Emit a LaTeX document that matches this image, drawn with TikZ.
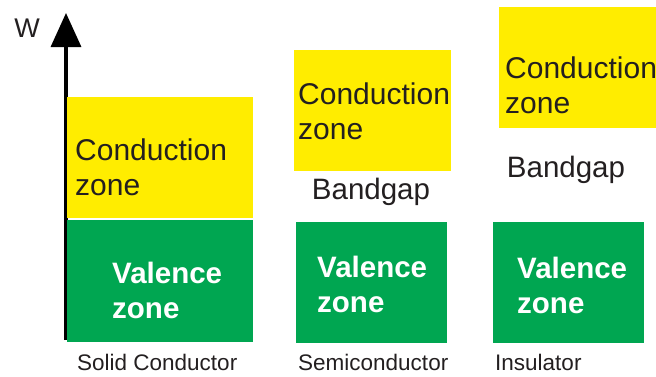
\documentclass[tikz,border=0pt]{standalone}
\usepackage{fontspec}
\setmainfont{Liberation Sans}
\usetikzlibrary{arrows.meta}
\usetikzlibrary{positioning}
\definecolor{bandyellow}{RGB}{255,237,0}
\definecolor{bandgreen}{RGB}{0,166,81}
\definecolor{inkblack}{RGB}{35,31,32}
\tikzset{
    condband/.style={fill=bandyellow, inner sep=0pt, anchor=south west},
    valband/.style={fill=bandgreen, inner sep=0pt, anchor=south west},
    condtext/.style={text=inkblack, inner sep=0pt, anchor=west, align=left,
        font=\fontsize{30}{35}\selectfont},
    valtext/.style={text=white, inner sep=0pt, anchor=west, align=left,
        font=\fontsize{29.5}{35}\selectfont\bfseries},
    gaptext/.style={text=inkblack, inner sep=0pt, font=\fontsize{29.5}{35}\selectfont},
    material/.style={text=inkblack, inner sep=0pt, anchor=west,
        font=\fontsize{22.5}{26}\selectfont},
    axis/.style={draw=black, line width=3.3pt, -{Triangle[length=34pt,width=30pt]}},
}

\begin{document}
\begin{tikzpicture}[x=1pt, y=1pt]
	\useasboundingbox (0,0) rectangle (656,376);
	% energy axis
	\coordinate (origin) at (66,36);
	\coordinate (wtop) at (66,363);
	\draw[axis] (origin) -- (wtop);
	\node[text=inkblack, font=\fontsize{27}{30}\selectfont] (W) at (27,348) {W};
	% solid conductor: bands touch
	\node[valband, minimum width=186pt, minimum height=122pt] (val1) at (67,34) {};
	\node[condband, minimum width=186pt, minimum height=121pt] (cond1) at (67,158) {};
	\node[condtext] (ctext1) at ([xshift=8pt,yshift=-10pt]cond1.west) {Conduction\\zone};
	\node[valtext] (vtext1) at ([xshift=45pt,yshift=-10pt]val1.west) {Valence\\zone};
	\node[material] (name1) at (77,14) {Solid Conductor};
	% semiconductor: small gap
	\node[valband, minimum width=151pt, minimum height=121pt] (val2) at (296,33) {};
	\node[condband, minimum width=157pt, minimum height=121pt] (cond2) at (294,205) {};
	\node[condtext] (ctext2) at ([xshift=4pt,yshift=-1pt]cond2.west) {Conduction\\zone};
	\node[valtext] (vtext2) at ([xshift=21pt,yshift=-2pt]val2.west) {Valence\\zone};
	\node[gaptext] (gap2) at (371,184) {Bandgap};
	\node[material] (name2) at (298,14) {Semiconductor};
	% insulator: large gap
	\node[valband, minimum width=151pt, minimum height=121pt] (val3) at (493,33) {};
	\node[condband, minimum width=157pt, minimum height=121pt] (cond3) at (499,248) {};
	\node[condtext] (ctext3) at ([xshift=6pt,yshift=-18pt]cond3.west) {Conduction\\zone};
	\node[valtext] (vtext3) at ([xshift=24pt,yshift=-3pt]val3.west) {Valence\\zone};
	\node[gaptext] (gap3) at (566,206) {Bandgap};
	\node[material] (name3) at (495,14) {Insulator};
\end{tikzpicture}
\end{document}
